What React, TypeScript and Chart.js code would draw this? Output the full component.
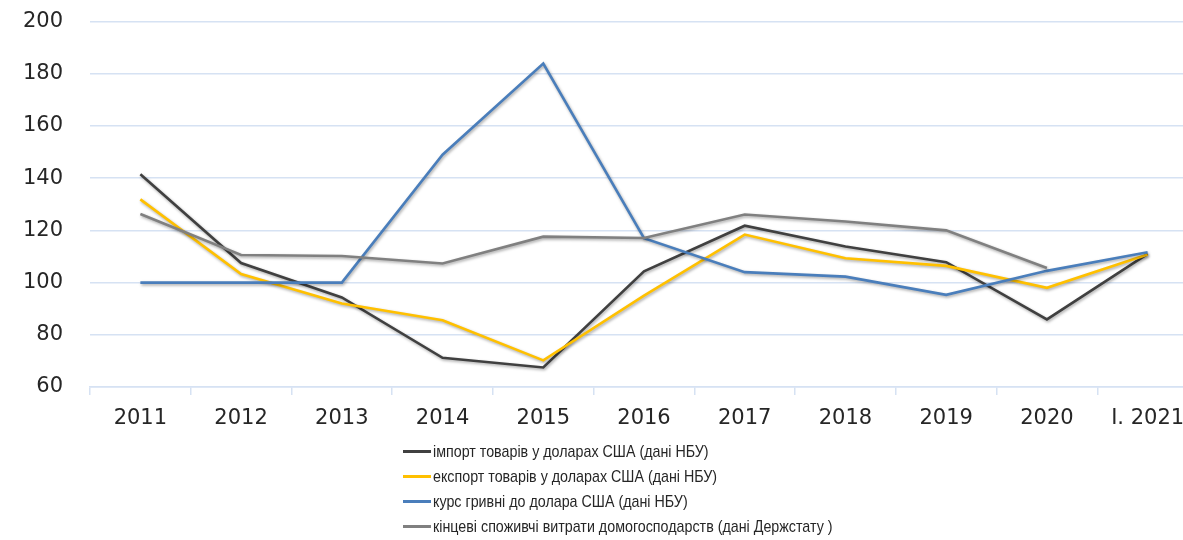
import React, { useEffect, useRef } from "react";
import { Chart, registerables } from "chart.js";

Chart.register(...registerables);

const categories = ["2011", "2012", "2013", "2014", "2015", "2016", "2017", "2018", "2019", "2020", "I. 2021"];
const importUsd = [141.5, 107.5, 94.3, 71.2, 67.5, 104.3, 121.8, 113.8, 107.8, 85.9, 111];
const exportUsd = [131.9, 103.3, 92, 85.6, 70.2, 95, 118.4, 109.3, 106.4, 98, 110.8];
const uahRate = [100, 100, 100, 149, 183.9, 117, 104, 102.3, 95.3, 104.5, 111.6];
const consumption = [126.3, 110.6, 110.2, 107.3, 117.6, 117.1, 126.1, 123.4, 120, 105.6, null];
const seriesNames = [
  "імпорт товарів у доларах США (дані НБУ)",
  "експорт товарів у доларах США (дані НБУ)",
  "курс гривні до долара США (дані НБУ)",
  "кінцеві споживчі витрати домогосподарств (дані Держстату )",
];
const seriesColors = ["#404040", "#FFC000", "#4A7EBB", "#808080"];
const yMin = 60;
const yMax = 200;
const yStep = 20;

const shadowPlugin = {
  id: "lineShadow",
  beforeDatasetDraw(chart: any) {
    const ctx = chart.ctx;
    ctx.save();
    ctx.shadowColor = "rgba(0,0,0,0.35)";
    ctx.shadowBlur = 3;
    ctx.shadowOffsetX = 1;
    ctx.shadowOffsetY = 1.5;
  },
  afterDatasetDraw(chart: any) {
    chart.ctx.restore();
  },
};

export default function App() {
  const ref = useRef<HTMLCanvasElement>(null);
  useEffect(() => {
    if (!ref.current) return;
    const values = [importUsd, exportUsd, uahRate, consumption];
    const chart = new Chart(ref.current, {
      type: "line",
      data: {
        labels: categories,
        datasets: values.map((v, i) => ({
          label: seriesNames[i],
          data: v,
          borderColor: seriesColors[i],
          backgroundColor: seriesColors[i],
          borderWidth: 2.6,
          pointRadius: 0,
          tension: 0,
          fill: false,
          order: 4 - i,
        })),
      },
      options: {
        responsive: false,
        animation: false,
        devicePixelRatio: 1,
        layout: { padding: { left: 0, right: 12, top: 2, bottom: 0 } },
        plugins: { legend: { display: false }, tooltip: { enabled: false } },
        scales: {
          x: {
            offset: true,
            grid: {
              offset: true,
              drawOnChartArea: false,
              drawTicks: true,
              tickLength: 8,
              color: "#D6E2F3",
              lineWidth: 1.5,
            },
            border: { display: true, color: "#D6E2F3", width: 1.5 },
            ticks: {
              color: "#262626",
              font: { family: "DejaVu Sans", size: 21 },
              padding: 11,
              maxRotation: 0,
              autoSkip: false,
            },
            afterFit(scale: any) {
              scale.height = 53;
            },
          },
          y: {
            min: yMin,
            max: yMax,
            grid: { color: "#D6E2F3", lineWidth: 1.5, drawTicks: false },
            border: { display: false },
            ticks: {
              stepSize: yStep,
              color: "#262626",
              font: { family: "DejaVu Sans", size: 21 },
              padding: 27,
            },
            afterFit(scale: any) {
              scale.width = 90;
            },
          },
        },
      },
      plugins: [shadowPlugin],
    });
    return () => chart.destroy();
  }, []);

  return (
    <div
      style={{
        position: "absolute",
        left: 0,
        top: 0,
        width: 1183,
        height: 540,
        overflow: "hidden",
        background: "#fff",
      }}
    >
      <canvas
        ref={ref}
        width={1210}
        height={458}
        style={{ display: "block", position: "absolute", left: 0, top: -18 }}
      />
      <div style={{ position: "absolute", left: 403, top: 439 }}>
        {seriesNames.map((name, i) => (
          <div
            key={name}
            style={{
              display: "flex",
              alignItems: "center",
              height: 25,
              fontFamily: "'Liberation Sans', sans-serif",
              fontSize: 17,
              color: "#262626",
              whiteSpace: "nowrap",
            }}
          >
            <span
              style={{
                display: "inline-block",
                width: 28,
                height: 3,
                background: seriesColors[i],
                marginRight: 2,
              }}
            />
            <span style={{ display: "inline-block", transform: "scaleX(0.84)", transformOrigin: "left center" }}>
              {name}
            </span>
          </div>
        ))}
      </div>
    </div>
  );
}
